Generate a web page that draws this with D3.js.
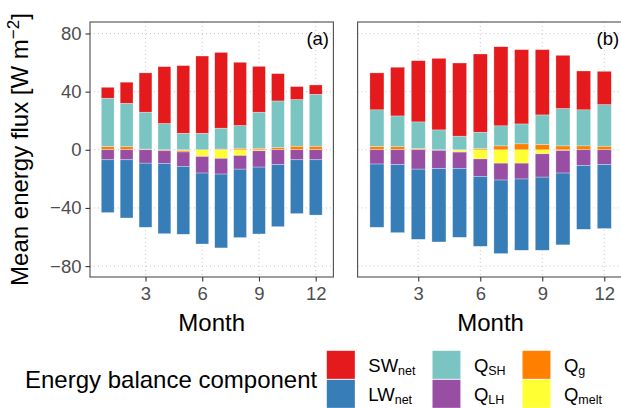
<!DOCTYPE html>
<html>
<head>
<meta charset="utf-8">
<script src="https://cdn.jsdelivr.net/npm/d3@7"></script>
<style>
  body { margin: 0; background: #fff; }
  text { font-family: "Liberation Sans", Arial, sans-serif; }
</style>
</head>
<body>
<div id="chart"></div>
<script>
var months = [1, 2, 3, 4, 5, 6, 7, 8, 9, 10, 11, 12];
var components = ["SWnet", "LWnet", "QSH", "QLH", "Qg", "Qmelt"];
var colors = ["#E41A1C", "#377EB8", "#7AC5C1", "#984EA3", "#FF7F00", "#FFFF33"];
var xTicks = [3, 6, 9, 12];
var yTicks = [-80, -40, 0, 40, 80];
var panels = ["(a)", "(b)"];

// panel (a)
var swA    = [7.5, 14.5, 27.0, 39.1, 46.5, 53.1, 52.1, 43.5, 31.5, 18.8, 8.9, 6.4];
var lwA    = [-36.3, -40.0, -44.1, -48.3, -46.7, -48.8, -50.8, -47.1, -46.0, -42.6, -37.0, -38.0];
var qshA   = [33.2, 29.9, 25.4, 18.1, 11.4, 11.4, 14.4, 15.6, 24.8, 32.0, 32.1, 35.7];
var qlhA   = [-6.9, -6.9, -9.2, -8.7, -9.9, -11.2, -10.8, -9.4, -11.2, -10.3, -6.9, -6.9];
var qgA    = [2.3, 2.1, 0.5, -0.7, -1.0, -0.7, 0.5, 1.1, 1.1, 1.6, 2.5, 2.5];
var qmeltA = [0, 0, 0, 0, -0.5, -4.1, -5.9, -3.9, -0.7, 0, 0, 0];

// panel (b)
var swB    = [25.4, 33.5, 42.1, 49.2, 50.3, 53.8, 54.4, 51.1, 44.9, 36.6, 26.7, 22.9];
var lwB    = [-43.5, -46.7, -48.3, -50.4, -47.4, -48.1, -50.6, -49.0, -50.3, -49.4, -43.9, -43.9];
var qshB   = [25.2, 21.2, 18.3, 13.7, 9.4, 11.2, 13.8, 13.7, 20.3, 25.7, 24.8, 28.6];
var qlhB   = [-9.8, -10.3, -13.3, -12.6, -11.2, -12.0, -11.6, -10.9, -16.0, -15.5, -10.8, -10.3];
var qgB    = [2.3, 2.1, 0.9, -0.4, -0.3, 0.9, 2.7, 4.1, 3.7, 2.7, 2.7, 2.5];
var qmeltB = [0, 0, 0, 0, -1.3, -6.3, -9.2, -9.2, -2.8, -0.5, 0, 0];

var seriesA = [swA, lwA, qshA, qlhA, qgA, qmeltA];
var seriesB = [swB, lwB, qshB, qlhB, qgB, qmeltB];

var width = 621, height = 408;
var svg = d3.select("#chart").append("svg")
    .attr("width", width)
    .attr("height", height);

var y = d3.scaleLinear().domain([-87.5, 87.9]).range([277, 22]);
var color = d3.scaleOrdinal().domain(components).range(colors);

// ggplot-like stacking: last factor level sits nearest zero
function stack(series) {
  var out = [];
  months.forEach(function(m, i) {
    var pos = 0, neg = 0;
    for (var k = components.length - 1; k >= 0; k--) {
      var v = series[k][i];
      if (v >= 0) { out.push({month: m, key: components[k], y0: pos, y1: pos + v}); pos += v; }
      else { out.push({month: m, key: components[k], y0: neg, y1: neg + v}); neg += v; }
    }
  });
  return out;
}

function drawPanel(series, left, right, label, showY) {
  var x = d3.scaleLinear().domain([0.065, 12.935]).range([left, right]);
  var g = svg.append("g");

  g.selectAll(".vgrid").data(xTicks).enter().append("line")
    .attr("x1", function(d) { return x(d); }).attr("x2", function(d) { return x(d); })
    .attr("y1", y.range()[1]).attr("y2", y.range()[0])
    .attr("stroke", "#c8c8c8").attr("stroke-width", 1).attr("stroke-dasharray", "1,3");
  g.selectAll(".hgrid").data(yTicks).enter().append("line")
    .attr("x1", left).attr("x2", right)
    .attr("y1", function(d) { return y(d); }).attr("y2", function(d) { return y(d); })
    .attr("stroke", "#c8c8c8").attr("stroke-width", 1).attr("stroke-dasharray", "1,3");

  var bw = 0.68;
  g.selectAll(".seg").data(stack(series)).enter().append("rect")
    .attr("x", function(d) { return x(d.month - bw / 2); })
    .attr("width", function(d) { return x(d.month + bw / 2) - x(d.month - bw / 2); })
    .attr("y", function(d) { return y(Math.max(d.y0, d.y1)); })
    .attr("height", function(d) { return Math.abs(y(d.y0) - y(d.y1)); })
    .attr("fill", function(d) { return color(d.key); })
    .attr("stroke", "#fff").attr("stroke-width", 0.5).attr("stroke-opacity", 0.6);

  g.append("rect")
    .attr("x", left).attr("y", y.range()[1])
    .attr("width", right - left).attr("height", y.range()[0] - y.range()[1])
    .attr("fill", "none").attr("stroke", "#4d4d4d").attr("stroke-width", 1.1);

  var xa = g.append("g").attr("transform", "translate(0," + y.range()[0] + ")")
    .call(d3.axisBottom(x).tickValues(xTicks).tickSize(4.5).tickPadding(5));
  xa.select(".domain").remove();
  xa.selectAll("line").attr("stroke", "#333").attr("stroke-width", 1.1);
  xa.selectAll("text").attr("fill", "#4d4d4d").style("font-size", "18.5px")
    .style("font-family", "'Liberation Sans', Arial, sans-serif");

  if (showY) {
    var ya = g.append("g").attr("transform", "translate(" + left + ",0)")
      .call(d3.axisLeft(y).tickValues(yTicks).tickSize(4.5).tickPadding(4));
    ya.select(".domain").remove();
    ya.selectAll("line").attr("stroke", "#333").attr("stroke-width", 1.1);
    ya.selectAll("text").attr("fill", "#4d4d4d").style("font-size", "18.5px")
      .style("font-family", "'Liberation Sans', Arial, sans-serif");
  }

  g.append("text").attr("x", right - 4.4).attr("y", 45)
    .attr("text-anchor", "end").style("font-size", "18.5px").attr("fill", "#000")
    .text(label);

  g.append("text").attr("x", (left + right) / 2).attr("y", 331)
    .attr("text-anchor", "middle").style("font-size", "24px").attr("fill", "#000")
    .text("Month");
}

drawPanel(seriesA, 90, 333.4, panels[0], true);
drawPanel(seriesB, 357.6, 623.6, panels[1], false);

// y axis title
var yt = svg.append("text")
  .attr("transform", "translate(28," + ((y.range()[0] + y.range()[1]) / 2) + ") rotate(-90)")
  .attr("text-anchor", "middle").style("font-size", "24px").attr("fill", "#000");
yt.append("tspan").text("Mean energy flux [W m");
yt.append("tspan").attr("dy", -9).style("font-size", "17px").text("\u22122");
yt.append("tspan").attr("dy", 9).text("]");

// legend
svg.append("text").attr("x", 25).attr("y", 388)
  .style("font-size", "24px").attr("fill", "#000")
  .text("Energy balance component");

var legendMain = ["SW", "LW", "Q", "Q", "Q", "Q"];
var legendSub = ["net", "net", "SH", "LH", "g", "melt"];
var colX = [326.7, 432.3, 522.3];
var rowY = [350.7, 379.7];
var key = 28.3;

var items = svg.selectAll(".legend").data(components).enter().append("g")
  .attr("transform", function(d, i) {
    return "translate(" + colX[Math.floor(i / 2)] + "," + rowY[i % 2] + ")";
  });
items.append("rect").attr("width", key).attr("height", key)
  .attr("fill", function(d) { return color(d); })
  .attr("stroke", "#fff").attr("stroke-width", 0.5).attr("stroke-opacity", 0.6);
var lt = items.append("text").attr("x", 41.6).attr("y", key / 2 + 7)
  .style("font-size", "18.5px").attr("fill", "#000");
lt.append("tspan").text(function(d, i) { return legendMain[i]; });
lt.append("tspan").attr("dy", 3).style("font-size", "12.5px")
  .text(function(d, i) { return legendSub[i]; });
</script>
</body>
</html>
